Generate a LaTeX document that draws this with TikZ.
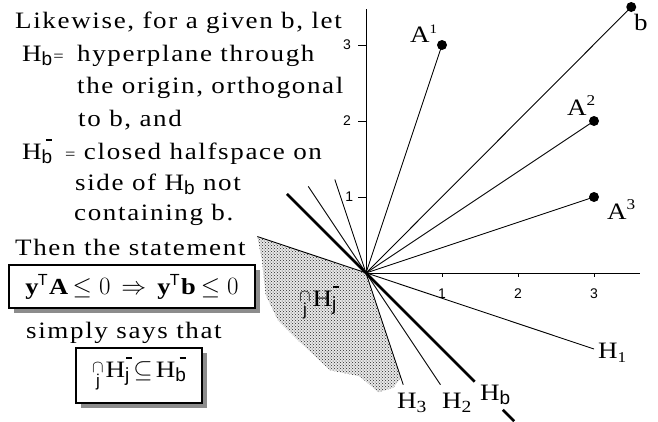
\documentclass[tikz,border=0pt]{standalone}
\usepackage{fontspec}
\setmainfont{Liberation Serif}[FakeStretch=1.15, LetterSpace=7]
\setsansfont{Liberation Sans}
\usetikzlibrary{patterns,shadows}
\newcommand\sbb[1]{\raisebox{-4pt}{\fontsize{19}{19}\sffamily #1}}
\newcommand\Hm[1]{H\ooalign{\sbb{#1}\cr\hidewidth\kern4pt\raisebox{18pt}{\rule{6pt}{2.5pt}}\hidewidth\cr}}
\newcommand\capj{\ooalign{\raisebox{5pt}{\fontsize{17}{17}\selectfont$\cap$}\cr\hidewidth\raisebox{-9pt}{\fontsize{17}{17}\sffamily j}\hidewidth\cr}}
\tikzset{
  txt/.style={font=\fontsize{23.5}{23.5}\selectfont, inner sep=0pt, anchor=base west},
  tick/.style={font=\fontsize{14}{14}\sffamily, inner sep=0pt},
  lab/.style={font=\fontsize{23.5}{23.5}\selectfont, inner sep=0pt, anchor=base west},
  thinline/.style={line width=0.9pt},
  hbline/.style={line width=2.6pt},
  dot/.style={circle, fill=black, inner sep=0pt, minimum size=10pt},
  statebox/.style={draw, line width=1.3pt, fill=white, inner sep=0pt,
    general shadow={fill=black!45, shadow xshift=4.5pt, shadow yshift=-4.5pt}},
  shadebase/.style={fill=black!9},
  shade/.style={pattern=crosshatch dots, pattern color=black!85}
}
\begin{document}
\begin{tikzpicture}[x=1pt,y=-1pt]
\useasboundingbox (0,0) rectangle (658,421);
% ---------- text column ----------
\node[txt] (l1) at (15,28) {Likewise, for a given b, let};
\node[txt] (l2a) at (22,61) {H\sbb{b}\kern1pt{\fontsize{16}{16}\selectfont=}};
\node[txt] (l2b) at (77,61) {hyperplane through};
\node[txt] (l3) at (77,93) {the origin, orthogonal};
\node[txt] (l4) at (78,126) {to b, and};
\node[txt] (l5a) at (22,159) {\Hm{b}};
\node[txt] (l5b) at (65,159) {{\fontsize{16}{16}\selectfont=} closed halfspace on};
\node[txt] (l6) at (75,190) {side of H\sbb{b} not};
\node[txt] (l7) at (74,220) {containing b.};
\node[txt] (l8) at (15,255) {Then the statement};
\node[statebox, minimum width=246pt, minimum height=43pt] (box1) at (132,286.5)
  {\fontsize{23}{23}\selectfont$\mathbf{y}^{\kern1pt\mathsf{T}}\kern1pt\mathbf{A}\le 0\,\Rightarrow\,\mathbf{y}^{\kern1pt\mathsf{T}}\kern1pt\mathbf{b}\le 0$};
\node[txt] (l9) at (26,338) {simply says that};
\node[statebox, minimum width=126pt, minimum height=55pt] (box2) at (139,375.5)
  {\fontsize{23.5}{23.5}\selectfont\capj\kern2pt\Hm{j}\kern4pt$\subseteq$\kern3pt\Hm{b}};
% ---------- plot ----------
\begin{scope}[shift={(366,273)}, x=76pt, y=76pt]
  \coordinate (O) at (0,0);
  \coordinate (xend) at (3.6,0);
  \coordinate (yend) at (0,3.48);
  % shaded cone
  \fill[shadebase] (-1.43,0.48) -- (O) -- (0.46,-1.38) -- (0.36,-1.51) -- (0.16,-1.57)
     -- (-0.08,-1.36) -- (-0.47,-1.28) -- (-0.87,-0.91) -- (-1.16,-0.62)
     -- (-1.32,-0.29) -- (-1.37,0.17) -- cycle;
  \fill[shade] (-1.43,0.48) -- (O) -- (0.46,-1.38) -- (0.36,-1.51) -- (0.16,-1.57)
     -- (-0.08,-1.36) -- (-0.47,-1.28) -- (-0.87,-0.91) -- (-1.16,-0.62)
     -- (-1.32,-0.29) -- (-1.37,0.17) -- cycle;
  % axes
  \draw[thinline] (O) -- (xend);
  \draw[thinline] (O) -- (yend);
  \foreach \i in {1,2,3} {
    \draw[thinline] (\i,0) -- (\i,-0.05);
    \draw[thinline] (0,\i) -- (-0.11,\i);
  }
  \node[tick] (tx1) at (1,-0.27) {1};
  \node[tick] (tx2) at (2,-0.27) {2};
  \node[tick] (tx3) at (3,-0.27) {3};
  \node[tick] (ty1) at (-0.22,1) {1};
  \node[tick] (ty2) at (-0.25,2) {2};
  \node[tick] (ty3) at (-0.25,3) {3};
  % hyperplanes
  \coordinate (h1a) at (-1.43,0.48);  \coordinate (h1b) at (3,-1);
  \coordinate (h2a) at (-0.76,1.14);  \coordinate (h2b) at (0.98,-1.47);
  \coordinate (h3a) at (-0.41,1.23);  \coordinate (h3b) at (0.49,-1.47);
  \coordinate (hba) at (-1.04,1.04);  \coordinate (hbb) at (1.43,-1.43);
  \coordinate (hbc) at (1.80,-1.80);  \coordinate (hbd) at (1.95,-1.95);
  \draw[thinline] (h1a) -- (h1b);
  \draw[thinline] (h2a) -- (h2b);
  \draw[thinline] (h3a) -- (h3b);
  \draw[hbline] (hba) -- (hbb);
  \draw[hbline] (hbc) -- (hbd);
  % vectors
  \node[dot] (A1) at (1,3) {};
  \node[dot] (A2) at (3,2) {};
  \node[dot] (A3) at (3,1) {};
  \node[dot] (B) at (3.49,3.5) {};
  \draw[thinline] (O) -- (A1.center);
  \draw[thinline] (O) -- (A2.center);
  \draw[thinline] (O) -- (A3.center);
  \draw[thinline] (O) -- (B.center);
\end{scope}
% labels (pixel coordinates)
\node[lab] (la1) at (410,42) {A\raisebox{9pt}{\fontsize{13}{13}\selectfont 1}};
\node[lab] (lb) at (634,30) {b};
\node[lab] (la2) at (567,115) {A\raisebox{10pt}{\fontsize{15}{15}\selectfont 2}};
\node[lab] (la3) at (607,219) {A\raisebox{10pt}{\fontsize{15}{15}\selectfont 3}};
\node[lab] (lh1) at (598,358) {H\raisebox{-4pt}{\fontsize{15}{15}\selectfont 1}};
\node[lab] (lh2) at (442,408) {H\raisebox{-4pt}{\fontsize{17}{17}\selectfont 2}};
\node[lab] (lh3) at (397,408) {H\raisebox{-4pt}{\fontsize{17}{17}\selectfont 3}};
\node[lab] (lhb) at (480,400) {H\sbb{b}};
\node[lab] (lcone) at (299,306) {\capj\kern2pt\Hm{j}};
\end{tikzpicture}
\end{document}
